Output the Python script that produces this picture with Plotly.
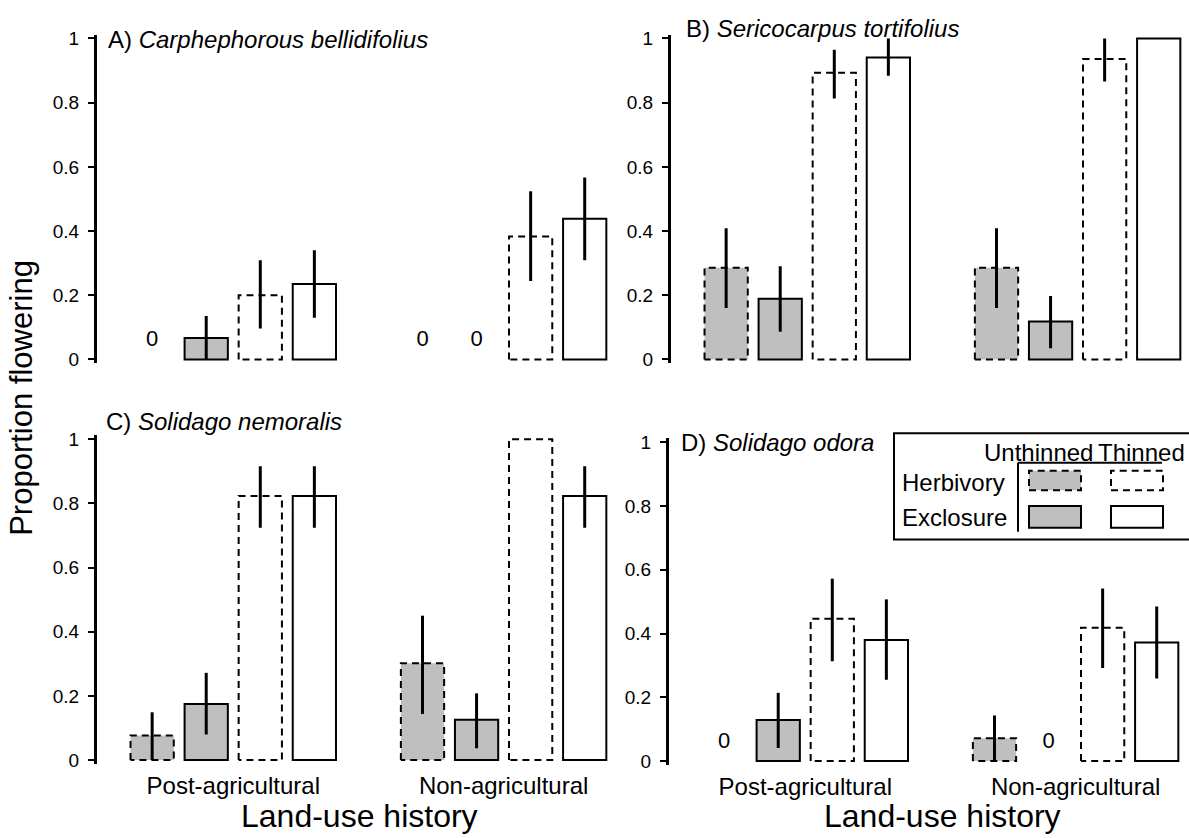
import plotly.graph_objects as go

FIG_W, FIG_H = 1189, 838

# ---------------- data ----------------
groups = ["Post-agricultural", "Non-agricultural"]
series = ["Herbivory, Unthinned", "Exclosure, Unthinned", "Herbivory, Thinned", "Exclosure, Thinned"]
panel_labels = ["A)", "B)", "C)", "D)"]
species = ["Carphephorous bellidifolius", "Sericocarpus tortifolius",
           "Solidago nemoralis", "Solidago odora"]
y_ticks = [0, 0.2, 0.4, 0.6, 0.8, 1]
y_ticktext = ["0", "0.2", "0.4", "0.6", "0.8", "1"]

# order: Post-agricultural (HU, EU, HT, ET), Non-agricultural (HU, EU, HT, ET)
A_mean = [0, 0.067, 0.200, 0.235, 0, 0, 0.383, 0.438]
A_low = [None, 0.0, 0.096, 0.130, None, None, 0.244, 0.309]
A_high = [None, 0.135, 0.309, 0.340, None, None, 0.524, 0.567]

B_mean = [0.286, 0.189, 0.893, 0.941, 0.286, 0.118, 0.936, 1.0]
B_low = [0.160, 0.086, 0.813, 0.884, 0.160, 0.035, 0.866, None]
B_high = [0.409, 0.290, 0.965, 1.0, 0.409, 0.198, 1.0, None]

C_mean = [0.077, 0.175, 0.823, 0.823, 0.302, 0.126, 1.0, 0.823]
C_low = [0.0, 0.080, 0.724, 0.724, 0.144, 0.037, None, 0.724]
C_high = [0.149, 0.272, 0.916, 0.916, 0.450, 0.208, None, 0.916]

D_mean = [0, 0.129, 0.446, 0.380, 0.072, 0, 0.418, 0.372]
D_low = [None, 0.041, 0.313, 0.255, 0.0, None, 0.292, 0.259]
D_high = [None, 0.214, 0.572, 0.507, 0.143, None, 0.541, 0.485]

panel_data = [(A_mean, A_low, A_high), (B_mean, B_low, B_high),
              (C_mean, C_low, C_high), (D_mean, D_low, D_high)]

# ---------------- styles / layout geometry ----------------
FONT = "Arial, Liberation Sans, sans-serif"
GRAY = "#bfbfbf"
fills = [GRAY, GRAY, "white", "white"]
dashed = [True, False, True, False]
DASH = "7px,5px"
BAR_W = 0.8
GROUP_STEP = 5
ZERO_Y = 0.058

UNIT = 54.07
XR = [-1.02, 8.43]
YR = [-0.012, 1.012]
# (x of y-axis, y px of value 1, y px of value 0)
panel_px = [(97, 33, 359), (671, 33, 359), (97, 440, 766), (669, 443, 767)]


def xdom(x0):
    return [x0 / FIG_W, (x0 + (XR[1] - XR[0]) * UNIT) / FIG_W]


def ydom(top, bot):
    h = bot - top
    ptop = top - (YR[1] - 1) * h
    pbot = bot + (0 - YR[0]) * h
    return [1 - pbot / FIG_H, 1 - ptop / FIG_H]


fig = go.Figure()

for p, (mean, low, high) in enumerate(panel_data):
    xa = "x" if p == 0 else f"x{p+1}"
    ya = "y" if p == 0 else f"y{p+1}"
    zero_x = []
    for s in range(4):
        xs, ys, ep, em = [], [], [], []
        for g in range(2):
            i = g * 4 + s
            v = mean[i]
            xs.append(g * GROUP_STEP + s)
            ys.append(v if v > 0 else None)
            ep.append(high[i] - v if high[i] is not None else 0)
            em.append(v - low[i] if low[i] is not None else 0)
            if v == 0:
                zero_x.append(g * GROUP_STEP + s)
        fig.add_trace(go.Bar(
            x=xs, y=ys, width=BAR_W, xaxis=xa, yaxis=ya,
            marker=dict(color=fills[s],
                        line=dict(color="black", width=0 if dashed[s] else 2)),
            error_y=dict(type="data", symmetric=False, array=ep, arrayminus=em,
                         color="black", thickness=3, width=0),
            name=series[s], showlegend=False, hoverinfo="skip"))
        if dashed[s]:
            ox, oy = [], []
            for x, y in zip(xs, ys):
                if y is None:
                    continue
                x0, x1 = x - BAR_W / 2, x + BAR_W / 2
                ox += [x0, x0, x1, x1, x0, None]
                oy += [0, y, y, 0, 0, None]
            fig.add_trace(go.Scatter(
                x=ox, y=oy, mode="lines", xaxis=xa, yaxis=ya,
                line=dict(color="black", width=2, dash=DASH),
                showlegend=False, hoverinfo="skip"))
    if zero_x:
        fig.add_trace(go.Scatter(
            x=zero_x, y=[ZERO_Y] * len(zero_x), mode="text",
            text=["0"] * len(zero_x), textposition="middle center",
            textfont=dict(size=22, color="black", family=FONT),
            xaxis=xa, yaxis=ya, showlegend=False, hoverinfo="skip"))

layout_axes = {}
for p, (x0, top, bot) in enumerate(panel_px):
    xk = "xaxis" if p == 0 else f"xaxis{p+1}"
    yk = "yaxis" if p == 0 else f"yaxis{p+1}"
    layout_axes[xk] = dict(
        domain=xdom(x0), range=XR, showline=False, showgrid=False, zeroline=False,
        ticks="", tickvals=[1.5, 1.5 + GROUP_STEP], ticktext=groups,
        showticklabels=(p >= 2), tickfont=dict(size=24, color="black", family=FONT),
        ticklabelstandoff=5,
        anchor="y" if p == 0 else f"y{p+1}", fixedrange=True)
    layout_axes[yk] = dict(
        domain=ydom(top, bot), range=YR, showline=True, linewidth=3,
        linecolor="black", ticks="outside", ticklen=6, tickwidth=2,
        tickcolor="black", tickvals=y_ticks, ticktext=y_ticktext,
        tickfont=dict(size=19, color="black", family=FONT), ticklabelstandoff=5,
        showgrid=False, zeroline=False,
        anchor="x" if p == 0 else f"x{p+1}", fixedrange=True)

annotations = []
title_pos = [(106, 34), (684, 23), (104, 422), (679, 443)]
for p in range(4):
    tx, ty = title_pos[p]
    annotations.append(dict(
        x=tx / FIG_W, y=1 - ty / FIG_H, xref="paper", yref="paper",
        xanchor="left", yanchor="middle", showarrow=False,
        text=f"{panel_labels[p]} <i>{species[p]}</i>",
        font=dict(size=24, color="black", family=FONT)))

annotations.append(dict(
    x=22 / FIG_W, y=1 - 398 / FIG_H, xref="paper", yref="paper",
    text="Proportion flowering", textangle=-90, showarrow=False,
    xanchor="center", yanchor="middle",
    font=dict(size=31, color="black", family=FONT)))
for cx in (359, 942):
    annotations.append(dict(
        x=cx / FIG_W, y=1 - 823 / FIG_H, xref="paper", yref="paper",
        text="Land-use history", showarrow=False, xanchor="center",
        yanchor="middle", font=dict(size=32, color="black", family=FONT)))

# legend (drawn manually to mimic the 2x2 key)
def px(x, y):
    return x / FIG_W, 1 - y / FIG_H

leg_font = dict(size=24, color="black", family=FONT)
for txt, x, y, anc in [("Unthinned", 1095, 454, "right"), ("Thinned", 1096, 454, "left"),
                       ("Herbivory", 900, 484, "left"), ("Exclosure", 900, 520, "left")]:
    ax, ay = px(x, y)
    annotations.append(dict(x=ax, y=ay, xref="paper", yref="paper", text=txt,
                            showarrow=False, xanchor=anc, yanchor="middle",
                            font=leg_font))

shapes = []
def rect(x0, y0, x1, y1, fill, dash, w=2):
    a0, b0 = px(x0, y0)
    a1, b1 = px(x1, y1)
    shapes.append(dict(type="rect", xref="paper", yref="paper",
                       x0=a0, y0=b1, x1=a1, y1=b0, fillcolor=fill,
                       line=dict(color="black", width=w, dash=dash)))

def line(x0, y0, x1, y1):
    a0, b0 = px(x0, y0)
    a1, b1 = px(x1, y1)
    shapes.append(dict(type="line", xref="paper", yref="paper",
                       x0=a0, y0=b0, x1=a1, y1=b1,
                       line=dict(color="black", width=2)))

rect(894, 434, 1196, 542, "rgba(0,0,0,0)", "solid")
line(1018, 464, 1162, 464)
line(1018, 464, 1018, 534)
rect(1029, 472, 1081, 492, fills[0], DASH)
rect(1111, 472, 1163, 492, fills[2], DASH)
rect(1029, 508, 1081, 530, fills[1], "solid")
rect(1111, 508, 1163, 530, fills[3], "solid")

fig.update_layout(
    width=FIG_W, height=FIG_H, margin=dict(l=0, r=0, t=0, b=0),
    paper_bgcolor="white", plot_bgcolor="rgba(0,0,0,0)",
    font=dict(family=FONT, color="black"),
    barmode="overlay", showlegend=False,
    annotations=annotations, shapes=shapes, **layout_axes)

fig.write_html("out.html")
